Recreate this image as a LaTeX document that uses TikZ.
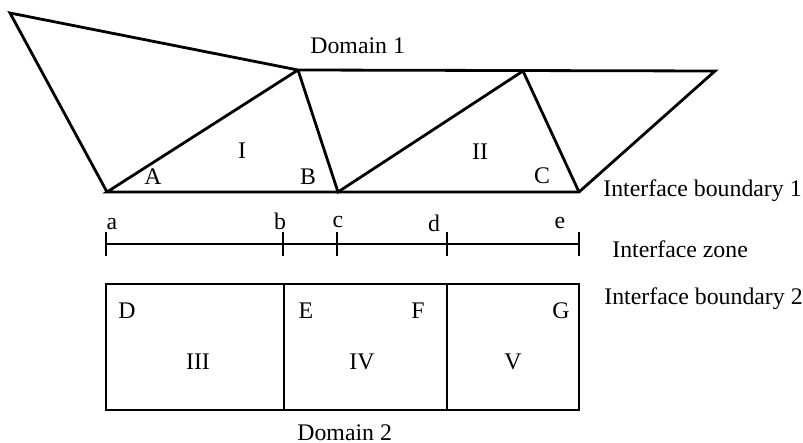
\documentclass[tikz,border=0pt]{standalone}
\usepackage{fontspec}
\setmainfont{Liberation Serif}
\begin{document}
\begin{tikzpicture}[x=0.5pt,y=-0.5pt,
  edge/.style={line width=1.4pt,line join=miter},
  lbl/.style={inner sep=0pt,anchor=base,font=\fontsize{11.9}{14}\selectfont},
  lblw/.style={lbl,anchor=base west}]
\useasboundingbox (0,0) rectangle (803,443);

% Domain 1 mesh vertices
\coordinate (p0) at (10,13);
\coordinate (p1) at (107,192);
\coordinate (p2) at (298,70);
\coordinate (p3) at (338,192);
\coordinate (p4) at (523,71);
\coordinate (p5) at (715,71);
\coordinate (p6) at (579,192);

\draw[edge] (p1) -- (p0) -- (p2) -- (p1) -- (p6) -- (p5) -- (p2);
\draw[edge] (p2) -- (p3) -- (p4) -- (p6);

\node[lblw] (dom1) at (310,54) {Domain 1};
\node[lbl] (tI) at (242,159) {I};
\node[lbl] (tII) at (480,160) {II};
\node[lbl] (tA) at (153,185) {A};
\node[lbl] (tB) at (308,185) {B};
\node[lbl] (tC) at (542,184) {C};
\node[lblw] (ib1) at (603,197) {Interface boundary 1};

% Interface zone
\coordinate (za) at (106,244);
\coordinate (zb) at (283,244);
\coordinate (zc) at (337,244);
\coordinate (zd) at (447,244);
\coordinate (ze) at (579,244);
\draw[edge] (za) -- (ze);
\foreach \t in {za,zb,zc,zd,ze}
  \draw[edge] ([yshift=-6]\t) -- ([yshift=6]\t);
\node[lbl] (la) at (112,230) {a};
\node[lbl] (lb) at (280,230) {b};
\node[lbl] (lc) at (338,228) {c};
\node[lbl] (ld) at (434,232) {d};
\node[lbl] (le) at (560,229) {e};
\node[lblw] (iz) at (612,258) {Interface zone};

% Domain 2 cells
\coordinate (q0) at (106,284);
\coordinate (q1) at (284,284);
\coordinate (q2) at (447,284);
\coordinate (q3) at (579,284);
\coordinate (r0) at (106,410);
\coordinate (r1) at (284,410);
\coordinate (r2) at (447,410);
\coordinate (r3) at (579,410);
\draw[edge] (q0) -- (q3) -- (r3) -- (r0) -- cycle;
\draw[edge] (q1) -- (r1);
\draw[edge] (q2) -- (r2);

\node[lblw] (ib2) at (604,305) {Interface boundary 2};
\node[lbl] (tD) at (127,318) {D};
\node[lbl] (tE) at (306,318) {E};
\node[lbl] (tF) at (418,318) {F};
\node[lbl] (tG) at (561,318) {G};
\node[lbl] (tIII) at (198,369) {III};
\node[lbl] (tIV) at (362,369) {IV};
\node[lbl] (tV) at (513,369) {V};
\node[lblw] (dom2) at (297,440) {Domain 2};
\end{tikzpicture}
\end{document}
